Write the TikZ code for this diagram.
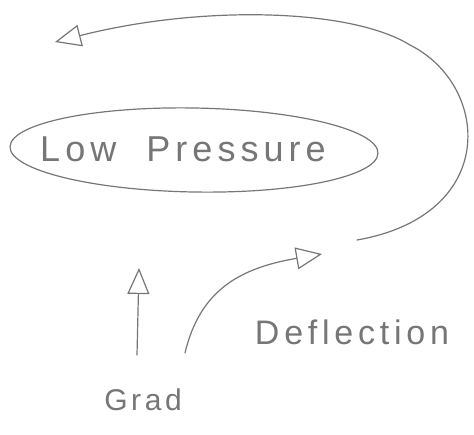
\documentclass[tikz,border=0pt]{standalone}
\usepackage{fontspec}
\setmainfont{Liberation Sans}
\usetikzlibrary{shapes.geometric,arrows.meta}
\definecolor{pencil}{RGB}{118,118,118}
\tikzset{
  pen/.style={draw=pencil, line width=1.2pt, line cap=round, line join=round},
  harrow/.style={pen, -{Triangle[open, length=26pt, width=22pt, line width=1.2pt]}},
  lbl/.style={text=pencil, inner sep=0pt}
}
\begin{document}
\begin{tikzpicture}[x=1pt,y=-1pt]
\useasboundingbox (0,0) rectangle (474,434);
\node[ellipse, pen, minimum width=368pt, minimum height=84pt, inner sep=0pt, rotate=-1] (lp) at (194,150) {};
\node[lbl, font=\fontsize{36}{40}\selectfont\addfontfeatures{LetterSpace=14}] (lptext) at (183,149) {Low\ \ Pressure};
\node[lbl, font=\fontsize{34}{38}\selectfont\addfontfeatures{LetterSpace=14}] (defl) at (352,332) {Deflection};
\node[lbl, font=\fontsize{30}{34}\selectfont\addfontfeatures{LetterSpace=12}] (grad) at (143,400) {Grad};
\coordinate (gs) at (137,355);
\coordinate (ge) at (139,268);
\coordinate (ds) at (185,353);
\coordinate (de) at (322,254);
\coordinate (cs) at (357,240);
\coordinate (ce) at (55,42);
\draw[harrow] (gs) -- (ge);
\draw[harrow] (ds) .. controls (200,290) and (240,268) .. (de);
\draw[harrow] (cs) .. controls (500,215) and (490,85) .. (410,45)
  .. controls (350,8) and (200,5) .. (ce);
\end{tikzpicture}
\end{document}
